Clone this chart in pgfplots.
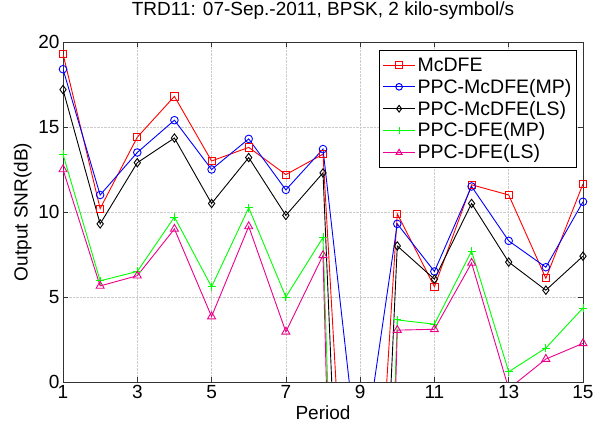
\documentclass[border=0pt]{standalone}
\usepackage{fontspec}
\setmainfont{Liberation Sans}
\usepackage{pgfplots}
\pgfplotsset{compat=1.18}
\begin{document}
\begin{tikzpicture}
\useasboundingbox (0,0) rectangle (595pt,425pt);
\begin{axis}[
  at={(63pt,43pt)}, anchor=south west,
  scale only axis, width=520pt, height=340pt,
  xmin=1, xmax=15, ymin=0, ymax=20,
  xtick={1,3,...,15}, ytick={0,5,...,20},
  grid=major, grid style={densely dotted, gray!40, line width=0.6pt},
  axis line style={line width=0.7pt, black!80},
  major tick length=5pt,
  tick style={black!80, line width=0.7pt},
  /pgf/number format/assume math mode=true,
  tick label style={font=\fontsize{19}{22}\selectfont},
  label style={font=\fontsize{19}{22}\selectfont},
  title style={font=\fontsize{19}{22}\selectfont, at={(0.5,1)}, anchor=base, yshift=20pt},
  title={TRD11: 07-Sep.-2011, BPSK, 2 kilo-symbol/s},
  xlabel={Period}, ylabel={Output SNR(dB)},
  legend style={at={(0.988,0.976)}, anchor=north east, draw=black, line width=0.7pt,
    font=\fontsize{19.5}{22}\selectfont, row sep=2.3pt, inner ysep=5.3pt, inner xsep=3pt},
  legend cell align=left,
  legend image code/.code={\draw[line width=1pt, mark size=3.3pt, mark repeat=2,mark phase=2] plot coordinates {(0pt,0pt) (16pt,0pt) (32pt,0pt)};},
  every axis plot/.append style={line width=0.9pt, mark size=3.6pt},
]
\addplot[red, mark=square] coordinates {(1,19.3) (2,10.2) (3,14.4) (4,16.8) (5,13.0) (6,13.8) (7,12.2) (8,13.4) (9,-25) (10,9.9) (11,5.6) (12,11.6) (13,11.0) (14,6.1) (15,11.65)};
\addlegendentry{McDFE}
\addplot[blue, mark=o, mark size=3.8pt] coordinates {(1,18.4) (2,11.0) (3,13.5) (4,15.4) (5,12.5) (6,14.3) (7,11.3) (8,13.7) (9,-5.7) (10,9.3) (11,6.5) (12,11.5) (13,8.3) (14,6.75) (15,10.6)};
\addlegendentry{PPC-McDFE(MP)}
\addplot[black, mark=diamond, mark size=4.2pt] coordinates {(1,17.2) (2,9.3) (3,12.9) (4,14.35) (5,10.5) (6,13.2) (7,9.8) (8,12.3) (9,-40) (10,8.0) (11,6.05) (12,10.5) (13,7.05) (14,5.4) (15,7.4)};
\addlegendentry{PPC-McDFE(LS)}
\addplot[green, mark=+, mark size=4pt] coordinates {(1,13.4) (2,5.95) (3,6.5) (4,9.7) (5,5.6) (6,10.25) (7,5.0) (8,8.5) (9,-60) (10,3.65) (11,3.4) (12,7.7) (13,0.6) (14,2.0) (15,4.35)};
\addlegendentry{PPC-DFE(MP)}
\addplot[magenta, mark=triangle, mark size=4.6pt] coordinates {(1,12.5) (2,5.65) (3,6.25) (4,9.0) (5,3.85) (6,9.15) (7,2.95) (8,7.45) (9,-75) (10,3.05) (11,3.1) (12,7.0) (13,-0.4) (14,1.35) (15,2.27)};
\addlegendentry{PPC-DFE(LS)}
\end{axis}
\end{tikzpicture}
\end{document}
